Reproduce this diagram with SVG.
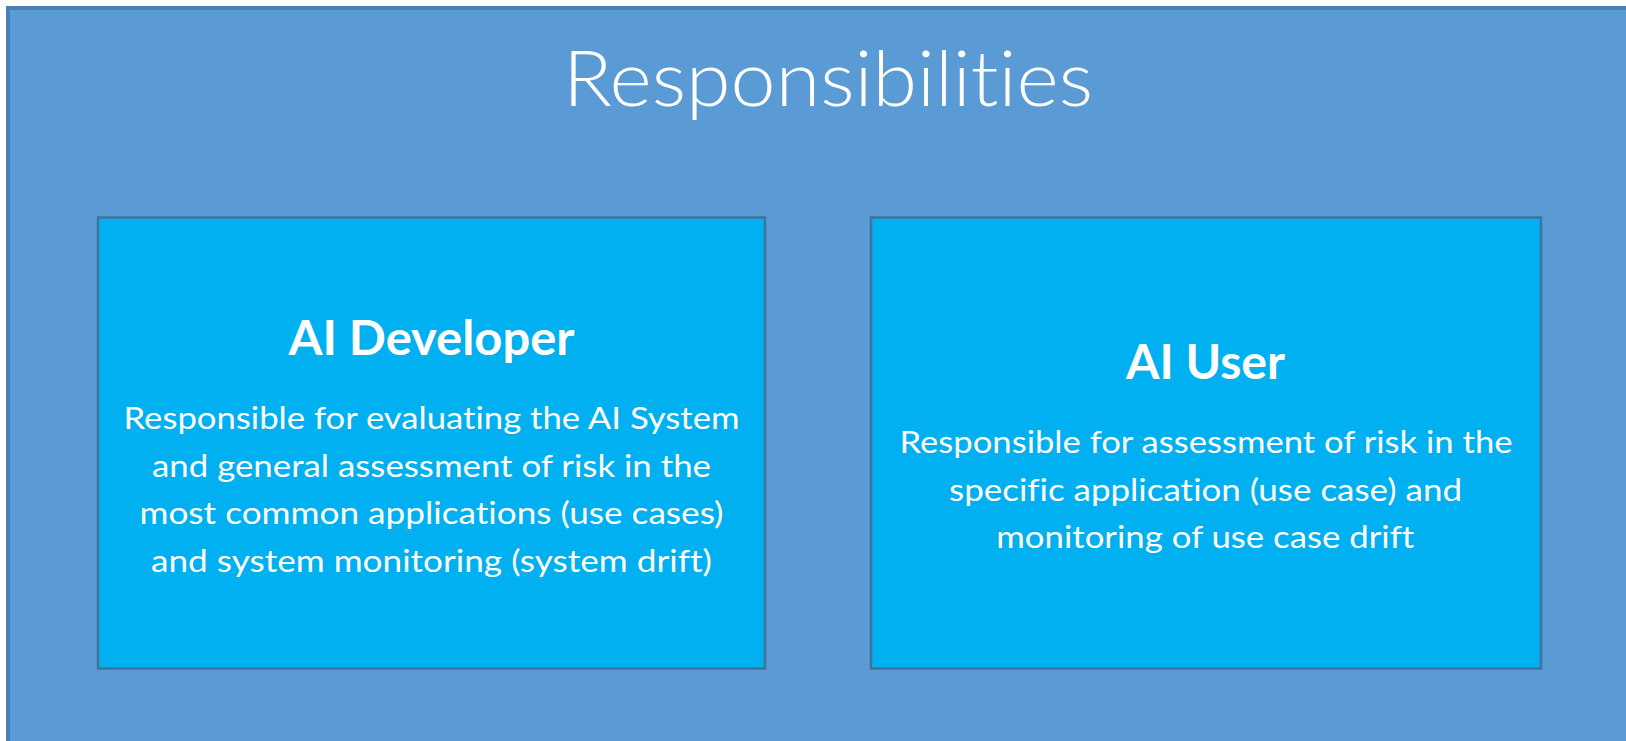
<svg xmlns="http://www.w3.org/2000/svg" width="1626" height="741" viewBox="0 0 1626 741">
<style>
.frame{fill:#5b9bd5;stroke:#4a7fb5;stroke-width:4}
.box{fill:#00b0f0;stroke:#41719c;stroke-width:2.5}
text{fill:#ffffff;font-family:Lato,"Open Sans","Liberation Sans",sans-serif;text-anchor:middle;font-variant-ligatures:none;font-feature-settings:"liga" 0,"clig" 0,"dlig" 0}
.title{font-size:76px;font-weight:300}
.head{font-size:47px;font-weight:700}
.body{font-size:30.5px;font-weight:400}
</style>
<rect width="1626" height="741" fill="#ffffff"/>
<g id="frame">
<rect class="frame" x="8" y="8" width="1630" height="745"/>
<text class="title" x="828" y="106" textLength="530" lengthAdjust="spacingAndGlyphs">Responsibilities</text>
</g>
<g id="connectors"></g>
<g id="ai-developer">
<rect class="box" x="98" y="217.5" width="667" height="451"/>
<text class="head" x="431.5" y="355" textLength="286" lengthAdjust="spacingAndGlyphs">AI Developer</text>
<text class="body" x="431.5" y="428.5" textLength="616" lengthAdjust="spacingAndGlyphs">Responsible for evaluating the AI System</text>
<text class="body" x="431.5" y="476.5" textLength="559" lengthAdjust="spacingAndGlyphs">and general assessment of risk in the</text>
<text class="body" x="431.5" y="524" textLength="584" lengthAdjust="spacingAndGlyphs">most common applications (use cases)</text>
<text class="body" x="431.5" y="572" textLength="561" lengthAdjust="spacingAndGlyphs">and system monitoring (system drift)</text>
</g>
<g id="ai-user">
<rect class="box" x="871" y="217.5" width="670" height="451"/>
<text class="head" x="1205.5" y="379" textLength="159" lengthAdjust="spacingAndGlyphs">AI User</text>
<text class="body" x="1206" y="452.7" textLength="613" lengthAdjust="spacingAndGlyphs">Responsible for assessment of risk in the</text>
<text class="body" x="1205.5" y="500.7" textLength="513" lengthAdjust="spacingAndGlyphs">specific application (use case) and</text>
<text class="body" x="1205.3" y="548.3" textLength="418" lengthAdjust="spacingAndGlyphs">monitoring of use case drift</text>
</g>
</svg>
